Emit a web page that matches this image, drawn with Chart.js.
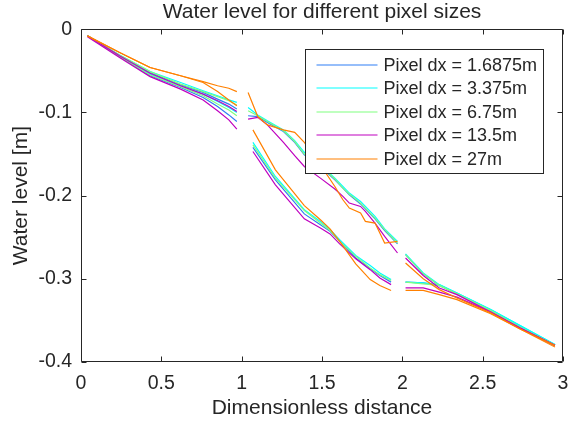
<!DOCTYPE html>
<html>
<head>
<meta charset="utf-8">
<title>Water level for different pixel sizes</title>
<script src="https://cdn.jsdelivr.net/npm/chart.js@4.4.1/dist/chart.umd.min.js"></script>
<style>
  html, body { margin: 0; padding: 0; background: #fff; }
  #wrap { width: 568px; height: 421px; }
</style>
</head>
<body>
<div id="wrap"><canvas id="levelChart"></canvas></div>
<script>
// distance along the channel for the three reaches
const xReach1 = [0.04, 0.24, 0.43, 0.62, 0.76, 0.85, 0.92, 0.97];
const xReach2Upper = [1.04, 1.10, 1.16, 1.26, 1.33, 1.39, 1.49, 1.58, 1.63, 1.67, 1.74, 1.77, 1.83, 1.89, 1.97];
const xReach2Lower = [1.07, 1.21, 1.39, 1.49, 1.55, 1.61, 1.71, 1.80, 1.86, 1.93];
const xReach3 = [2.02, 2.13, 2.23, 2.34, 2.55, 2.73, 2.95];

const xTicks = [0, 0.5, 1, 1.5, 2, 2.5, 3];
const yTicks = [-0.4, -0.3, -0.2, -0.1, 0];

const seriesLabels = ['Pixel dx = 1.6875m', 'Pixel dx = 3.375m', 'Pixel dx = 6.75m', 'Pixel dx = 13.5m', 'Pixel dx = 27m'];
const seriesColors = ['#2f7ff5', '#00ffff', '#80ff80', '#bf00bf', '#ff8000'];

// water level [m], upper and lower profile: reach 1 | reach 2 | reach 3
const dx1687Upper = [
  -0.008, -0.032, -0.052, -0.067, -0.076, -0.084, -0.090, -0.096,
  -0.104, -0.105, -0.112, -0.123, -0.136, -0.151, -0.165, -0.181, -0.191, -0.199, -0.210, -0.216, -0.228, -0.242, -0.258,
  -0.271, -0.294, -0.308, -0.318, -0.338, -0.358, -0.380];
const dx1687Lower = [
  -0.008, -0.033, -0.056, -0.070, -0.082, -0.093, -0.103, -0.111,
  -0.142, -0.181, -0.222, -0.235, -0.243, -0.255, -0.275, -0.288, -0.296, -0.304,
  -0.304, -0.305, -0.308, -0.318, -0.338, -0.358, -0.380];

const dx3375Upper = [
  -0.008, -0.031, -0.051, -0.064, -0.074, -0.080, -0.085, -0.088,
  -0.094, -0.103, -0.110, -0.121, -0.134, -0.148, -0.163, -0.179, -0.189, -0.197, -0.207, -0.213, -0.225, -0.240, -0.255,
  -0.270, -0.293, -0.307, -0.317, -0.337, -0.356, -0.379];
const dx3375Lower = [
  -0.008, -0.032, -0.054, -0.068, -0.078, -0.087, -0.094, -0.100,
  -0.136, -0.177, -0.217, -0.231, -0.241, -0.253, -0.272, -0.284, -0.293, -0.301,
  -0.304, -0.305, -0.307, -0.317, -0.337, -0.356, -0.379];

const dx675Upper = [
  -0.008, -0.031, -0.051, -0.066, -0.075, -0.081, -0.086, -0.091,
  -0.098, -0.104, -0.111, -0.122, -0.135, -0.150, -0.164, -0.180, -0.191, -0.198, -0.209, -0.215, -0.227, -0.241, -0.257,
  -0.271, -0.294, -0.308, -0.318, -0.338, -0.358, -0.380];
const dx675Lower = [
  -0.008, -0.033, -0.055, -0.069, -0.080, -0.090, -0.097, -0.104,
  -0.139, -0.179, -0.218, -0.233, -0.242, -0.255, -0.273, -0.287, -0.295, -0.302,
  -0.304, -0.306, -0.308, -0.318, -0.338, -0.358, -0.380];

const dx135Upper = [
  -0.008, -0.032, -0.053, -0.068, -0.078, -0.086, -0.093, -0.099,
  -0.108, -0.106, -0.115, -0.136, -0.152, -0.165, -0.179, -0.192, -0.201, -0.209, -0.213, -0.219, -0.233, -0.249, -0.269,
  -0.275, -0.296, -0.311, -0.319, -0.340, -0.359, -0.380];
const dx135Lower = [
  -0.009, -0.034, -0.057, -0.072, -0.085, -0.098, -0.109, -0.120,
  -0.147, -0.187, -0.228, -0.239, -0.246, -0.258, -0.276, -0.289, -0.299, -0.307,
  -0.311, -0.311, -0.316, -0.322, -0.340, -0.359, -0.380];

const dx27Upper = [
  -0.008, -0.028, -0.046, -0.056, -0.063, -0.068, -0.071, -0.075,
  -0.076, -0.105, -0.115, -0.121, -0.124, -0.136, -0.163, -0.189, -0.205, -0.215, -0.221, -0.231, -0.233, -0.257, -0.255,
  -0.281, -0.300, -0.313, -0.323, -0.341, -0.360, -0.380];
const dx27Lower = [
  -0.008, -0.028, -0.046, -0.056, -0.064, -0.075, -0.085, -0.092,
  -0.121, -0.169, -0.212, -0.229, -0.240, -0.255, -0.282, -0.301, -0.308, -0.314,
  -0.314, -0.314, -0.319, -0.325, -0.342, -0.360, -0.382];

const upperRuns = [dx1687Upper, dx3375Upper, dx675Upper, dx135Upper, dx27Upper];
const lowerRuns = [dx1687Lower, dx3375Lower, dx675Lower, dx135Lower, dx27Lower];

const AXIS_COLOR = '#262626';
const FONT = "'Liberation Sans', Arial, Helvetica, sans-serif";

// join the reaches into one point list, with a null point so the line breaks between reaches
function profile(levels, xMiddle) {
  const reaches = [xReach1, xMiddle, xReach3];
  const pts = [];
  let k = 0;
  reaches.forEach((xs, r) => {
    if (r > 0) pts.push({ x: (pts[pts.length - 1].x + xs[0]) / 2, y: null });
    xs.forEach(x => pts.push({ x: x, y: levels[k++] }));
  });
  return pts;
}

const datasets = [];
seriesLabels.forEach((label, i) => {
  [[upperRuns[i], xReach2Upper], [lowerRuns[i], xReach2Lower]].forEach(([levels, xMid]) => {
    datasets.push({
      label: label,
      data: profile(levels, xMid),
      borderColor: seriesColors[i],
      backgroundColor: seriesColors[i],
      borderWidth: 1.2,
      pointRadius: 0,
      tension: 0,
      spanGaps: false,
      order: seriesLabels.length - i // later runs painted on top
    });
  });
});

// plain number labels: 0, 0.5, 1, -0.1 ...
const tickText = v => String(Math.round(v * 10) / 10);

// boxed legend inside the top right of the plot
const legendBox = {
  id: 'legendBox',
  afterDatasetsDraw(chart) {
    const { ctx, chartArea: a } = chart;
    ctx.save();
    ctx.font = '18px ' + FONT;
    const textW = Math.max(...seriesLabels.map(t => ctx.measureText(t).width));
    const lineLen = 61, gap = 6, padL = 11, padR = 7, rowH = 23.5, padV = 15;
    const w = padL + lineLen + gap + textW + padR;
    const h = padV * 2 + rowH * (seriesLabels.length - 1);
    const right = Math.round(a.right - 20) + 0.5;
    const top = Math.round(a.top + 20) + 0.5;
    const left = Math.round(right - w) + 0.5;
    ctx.fillStyle = '#fff';
    ctx.fillRect(left, top, right - left, h);
    ctx.strokeStyle = AXIS_COLOR;
    ctx.lineWidth = 1;
    ctx.strokeRect(left, top, right - left, h);
    seriesLabels.forEach((t, i) => {
      const y = Math.round(top + padV + i * rowH);
      ctx.strokeStyle = seriesColors[i];
      ctx.lineWidth = 1.2;
      ctx.beginPath();
      ctx.moveTo(left + padL, y);
      ctx.lineTo(left + padL + lineLen, y);
      ctx.stroke();
      ctx.fillStyle = AXIS_COLOR;
      ctx.textBaseline = 'middle';
      ctx.textAlign = 'left';
      ctx.fillText(t, left + padL + lineLen + gap, y + 1);
    });
    ctx.restore();
  }
};

// closed axes box with inward tick marks on all four sides
const axesBox = {
  id: 'axesBox',
  afterDraw(chart) {
    const { ctx, chartArea: a, scales } = chart;
    const L = Math.round(a.left) + 0.5, R = Math.round(a.right) - 0.5;
    const T = Math.round(a.top) + 0.5, B = Math.round(a.bottom) - 0.5;
    const len = 5;
    ctx.save();
    ctx.strokeStyle = AXIS_COLOR;
    ctx.lineWidth = 1;
    ctx.beginPath();
    ctx.rect(L, T, R - L, B - T);
    xTicks.forEach(v => {
      const px = Math.round(scales.x.getPixelForValue(v)) + 0.5;
      ctx.moveTo(px, B); ctx.lineTo(px, B - len);
      ctx.moveTo(px, T); ctx.lineTo(px, T + len);
    });
    yTicks.forEach(v => {
      const py = Math.round(scales.y.getPixelForValue(v)) + 0.5;
      ctx.moveTo(L, py); ctx.lineTo(L + len, py);
      ctx.moveTo(R, py); ctx.lineTo(R - len, py);
    });
    ctx.stroke();
    ctx.restore();
  }
};

new Chart(document.getElementById('levelChart'), {
  type: 'line',
  data: { datasets: datasets },
  plugins: [legendBox, axesBox],
  options: {
    responsive: true,
    maintainAspectRatio: false,
    animation: false,
    layout: { padding: { left: 0, right: 5, top: 0, bottom: 0 } },
    plugins: {
      legend: { display: false },
      tooltip: { enabled: false },
      title: {
        display: true,
        fullSize: false,
        text: 'Water level for different pixel sizes',
        color: AXIS_COLOR,
        font: { family: FONT, size: 21, weight: 'normal' },
        padding: { top: 0, bottom: 4 }
      }
    },
    scales: {
      x: {
        type: 'linear',
        min: 0,
        max: 3,
        grid: { display: false, drawTicks: false },
        border: { display: false },
        afterBuildTicks: s => { s.ticks = xTicks.map(v => ({ value: v })); },
        afterFit: s => { s.height = 59; s.paddingLeft = 0; s.paddingRight = 0; },
        ticks: { color: AXIS_COLOR, padding: 10, maxRotation: 0, callback: tickText, font: { family: FONT, size: 19.5 } },
        title: {
          display: true,
          text: 'Dimensionless distance',
          color: AXIS_COLOR,
          font: { family: FONT, size: 21 },
          padding: { top: 0, bottom: 0 }
        }
      },
      y: {
        type: 'linear',
        min: -0.4,
        max: 0,
        grid: { display: false, drawTicks: false },
        border: { display: false },
        afterBuildTicks: s => { s.ticks = yTicks.map(v => ({ value: v })); },
        afterFit: s => { s.width = 81; s.paddingTop = 0; s.paddingBottom = 0; },
        ticks: { color: AXIS_COLOR, padding: 9, callback: tickText, font: { family: FONT, size: 19.5 } },
        title: {
          display: true,
          text: 'Water level [m]',
          color: AXIS_COLOR,
          font: { family: FONT, size: 21 },
          padding: { top: 9, bottom: 0 }
        }
      }
    }
  }
});
</script>
</body>
</html>
